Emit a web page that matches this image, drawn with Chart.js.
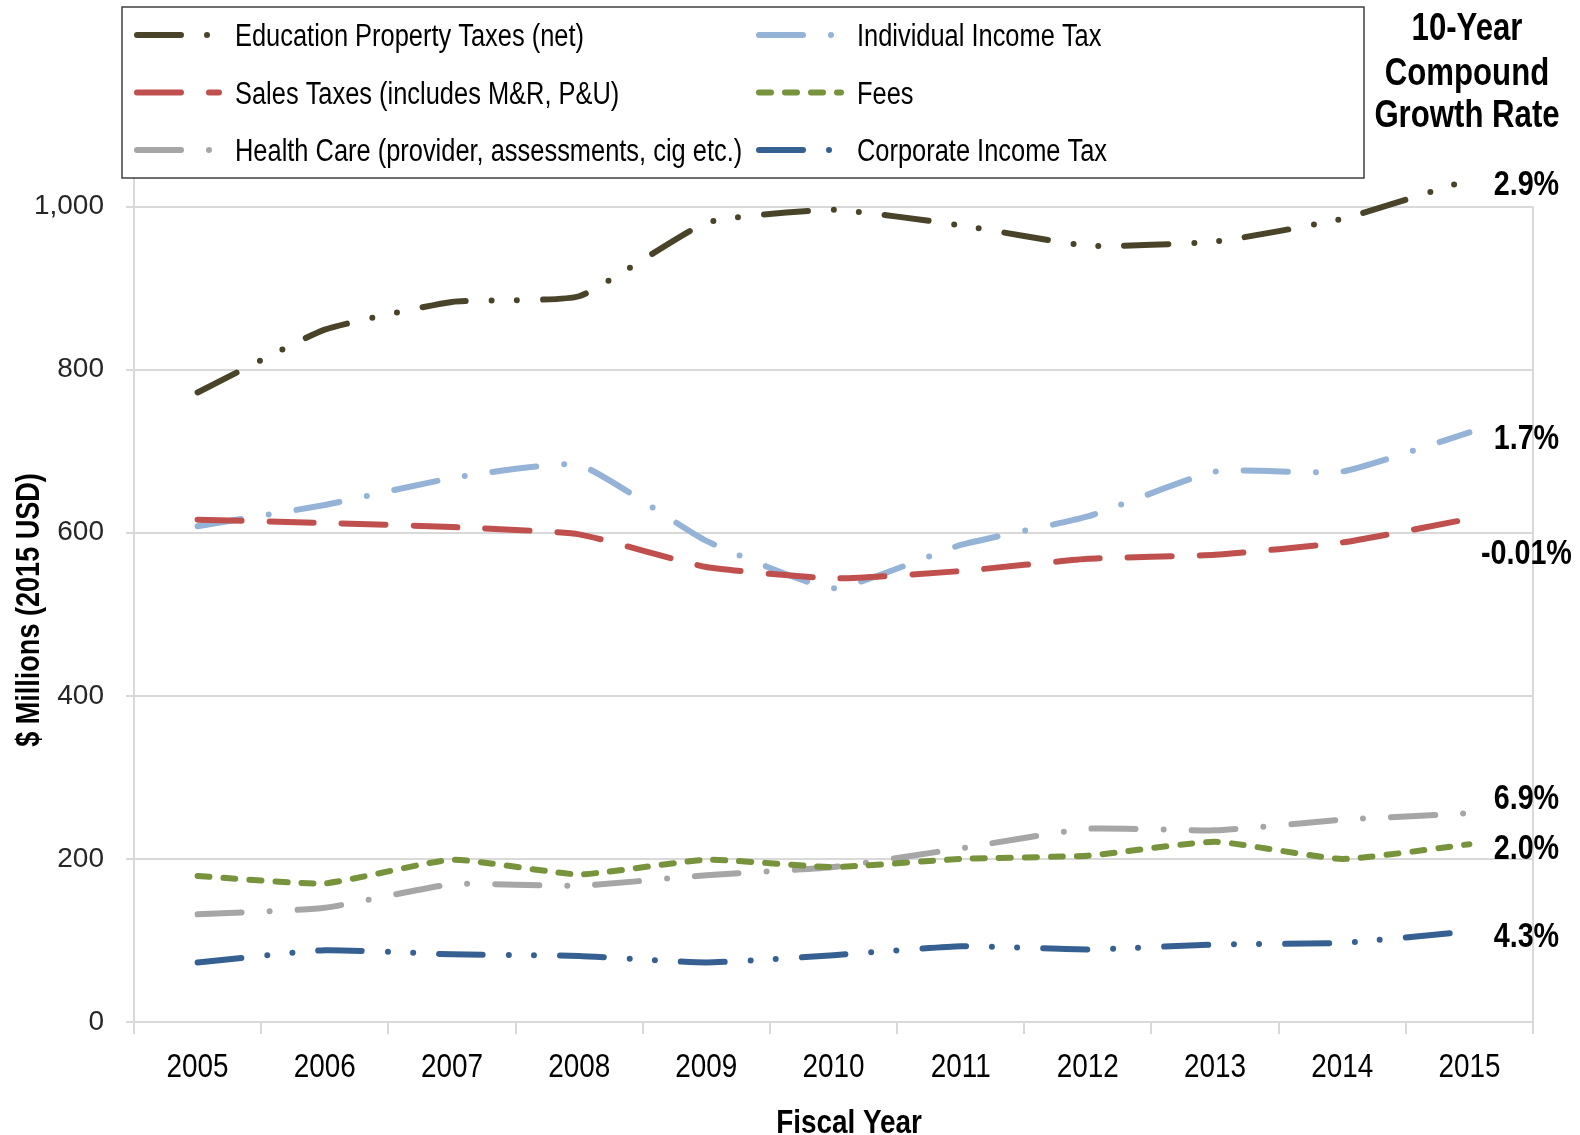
<!DOCTYPE html>
<html>
<head>
<meta charset="utf-8">
<title>Revenue by Source</title>
<script src="https://cdn.jsdelivr.net/npm/chart.js@4.4.0/dist/chart.umd.min.js"></script>
<style>
  html, body { margin: 0; padding: 0; background: #fff; }
  #wrap { width: 1580px; height: 1135px; }
</style>
</head>
<body>
<div id="wrap"><canvas id="graph" width="1580" height="1135"></canvas></div>
<script>
// fiscal years on the x axis
var years = ['2005', '2006', '2007', '2008', '2009', '2010', '2011', '2012', '2013', '2014', '2015'];

// $ millions, 2015 dollars
var educationProperty = [772, 849, 883, 890, 980, 996, 977, 952, 957, 985, 1033];
var salesTaxes = [616, 612, 607, 598, 558, 544, 553, 568, 573, 588, 617];
var healthCare = [132, 140, 169, 167, 180, 190, 213, 237, 235, 248, 256];
var individualIncome = [608, 634, 667, 683, 590, 532, 585, 620, 675, 675, 723];
var fees = [179, 170, 199, 181, 199, 190, 200, 204, 221, 200, 218];
var corporateIncome = [73, 88, 83, 81, 73, 82, 93, 89, 95, 97, 111];

// 10-year compound growth, same order as the series
var growthRates = ['2.9%', '-0.01%', '6.9%', '1.7%', '2.0%', '4.3%'];

var yTicks = [0, 200, 400, 600, 800, 1000];

// no condensed face installed, so narrow text is squeezed by hand
var SANS = "'Liberation Sans', Arial, sans-serif";
var SQUEEZE = 0.82;

// small vertical nudges so the rate labels don't collide
var labelShift = [3, 33, -16, 4, 3, 3];

var dashDotDot = [44, 26, 0, 25, 0, 26];
var dashDot = [44, 28, 0, 28];

function series(label, data, color, dash, order) {
  return {
    label: label,
    data: data,
    borderColor: color,
    backgroundColor: color,
    borderWidth: 6,
    borderDash: dash,
    borderCapStyle: 'round',
    borderJoinStyle: 'round',
    pointRadius: 0,
    pointHoverRadius: 0,
    tension: 0.15,
    fill: false,
    clip: false,
    order: order
  };
}

function narrowText(ctx, text, x, y, font, align, angle) {
  ctx.save();
  ctx.translate(x, y);
  if (angle) ctx.rotate(angle);
  ctx.scale(SQUEEZE, 1);
  ctx.font = font;
  ctx.textAlign = align || 'center';
  ctx.textBaseline = 'middle';
  ctx.fillStyle = '#000';
  // 'middle' sits a little high for caps and digits
  ctx.fillText(text, 0, 2.5);
  ctx.restore();
}

var legendAndLabels = {
  id: 'legendAndLabels',
  beforeDatasetsDraw: function(chart) {
    // right-hand frame line, from the top gridline down
    var ctx = chart.ctx;
    var y = chart.scales.y;
    ctx.save();
    ctx.strokeStyle = '#d9d9d9';
    ctx.lineWidth = 2;
    ctx.beginPath();
    ctx.moveTo(chart.chartArea.right, y.getPixelForValue(1000));
    ctx.lineTo(chart.chartArea.right, y.bottom);
    ctx.stroke();
    ctx.restore();
  },
  afterDraw: function(chart) {
    var ctx = chart.ctx;
    var xs = chart.scales.x;

    // year labels and axis titles
    years.forEach(function(yr, i) {
      narrowText(ctx, yr, xs.getPixelForValue(i), 1065, '34px ' + SANS);
    });
    narrowText(ctx, 'Fiscal Year', 849, 1121, 'bold 34px ' + SANS);
    narrowText(ctx, '$ Millions (2015 USD)', 27, 610, 'bold 33px ' + SANS, 'center', -Math.PI / 2);

    // legend, two columns of three
    ctx.save();
    ctx.strokeStyle = '#404040';
    ctx.lineWidth = 1.5;
    ctx.strokeRect(122, 7, 1242, 171);
    chart.data.datasets.forEach(function(ds, i) {
      var col = Math.floor(i / 3), row = i % 3;
      var x0 = col ? 756 : 134;
      var yy = 35 + row * 57.5;
      ctx.beginPath();
      ctx.setLineDash(ds.borderDash);
      ctx.lineCap = 'round';
      ctx.lineWidth = ds.borderWidth;
      ctx.strokeStyle = ds.borderColor;
      ctx.moveTo(x0 + 3, yy);
      ctx.lineTo(x0 + 85, yy);
      ctx.stroke();
      ctx.setLineDash([]);
      narrowText(ctx, ds.label, x0 + 101, yy, '31px ' + SANS, 'left');
    });
    ctx.restore();

    // growth-rate column
    narrowText(ctx, '10-Year', 1467, 27, 'bold 38px ' + SANS);
    narrowText(ctx, 'Compound', 1467, 72, 'bold 38px ' + SANS);
    narrowText(ctx, 'Growth Rate', 1467, 114, 'bold 38px ' + SANS);

    chart.data.datasets.forEach(function(ds, i) {
      var pts = chart.getDatasetMeta(i).data;
      var last = pts[pts.length - 1];
      narrowText(ctx, growthRates[i], last.x + 57, last.y + labelShift[i], 'bold 35px ' + SANS);
    });
  }
};

var ctx = document.getElementById('graph').getContext('2d');

new Chart(ctx, {
  type: 'line',
  data: {
    labels: years,
    datasets: [
      series('Education Property Taxes (net)', educationProperty, '#494429', dashDotDot, 1),
      series('Sales Taxes (includes M&R, P&U)', salesTaxes, '#c0504d', [44, 28], 2),
      series('Health Care (provider, assessments, cig etc.)', healthCare, '#a6a6a6', dashDot, 5),
      series('Individual Income Tax', individualIncome, '#95b3d7', dashDot, 3),
      series('Fees', fees, '#77933c', [12, 14], 4),
      series('Corporate Income Tax', corporateIncome, '#376092', dashDotDot, 6)
    ]
  },
  plugins: [legendAndLabels],
  options: {
    responsive: false,
    animation: false,
    events: [],
    layout: {
      padding: { top: 178, right: 47, bottom: 0, left: 0 }
    },
    plugins: {
      legend: { display: false },
      tooltip: { enabled: false }
    },
    scales: {
      x: {
        offset: true,
        grid: {
          offset: true,
          drawOnChartArea: false,
          tickLength: 12,
          color: '#d9d9d9',
          lineWidth: 2
        },
        border: { color: '#d9d9d9', width: 2 },
        ticks: { display: false },
        afterFit: function(scale) { scale.height = 113; }
      },
      y: {
        min: 0,
        max: 1035,
        ticks: {
          stepSize: 200,
          color: '#262626',
          padding: 22,
          font: { family: SANS, size: 28 }
        },
        afterBuildTicks: function(scale) {
          scale.ticks = yTicks.map(function(v) { return { value: v }; });
        },
        grid: {
          color: '#d9d9d9',
          lineWidth: 2,
          tickLength: 8
        },
        border: { color: '#d9d9d9', width: 2 },
        afterFit: function(scale) { scale.width = 134; }
      }
    }
  }
});
</script>
</body>
</html>
